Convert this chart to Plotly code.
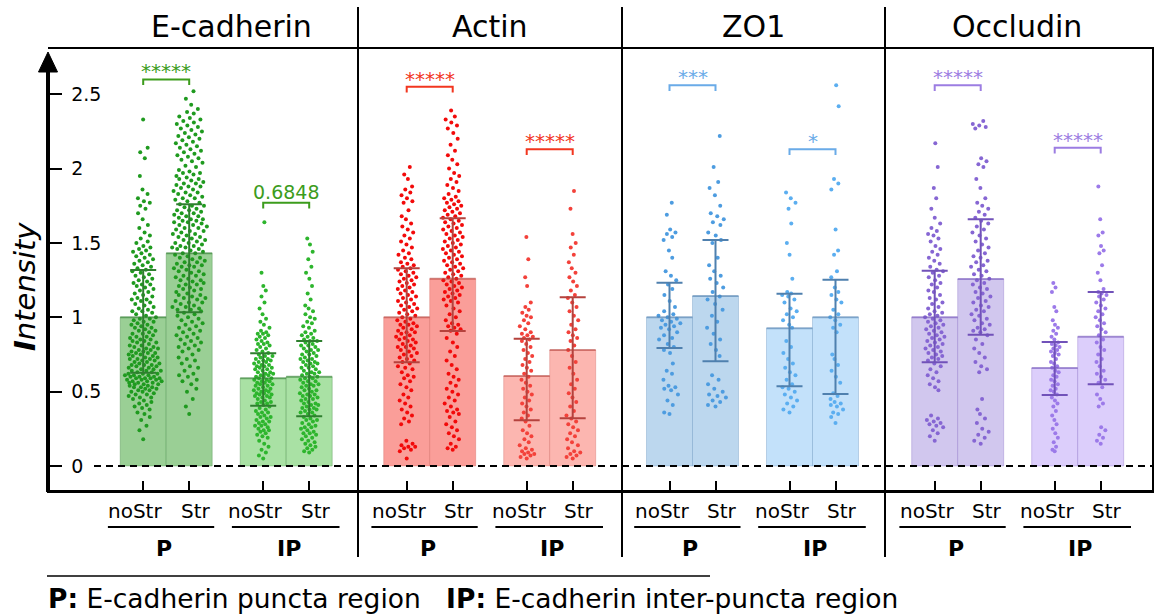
import numpy as np
import plotly.graph_objects as go

# ---------------- data ----------------
panels = ["E-cadherin", "Actin", "ZO1", "Occludin"]
conditions = ["noStr", "Str", "noStr", "Str"]
regions = ["P", "IP"]

means = [[1.00, 1.43, 0.59, 0.60],
         [1.00, 1.26, 0.605, 0.78],
         [1.00, 1.143, 0.926, 1.00],
         [1.00, 1.258, 0.659, 0.87]]
err_hi = [[1.318, 1.760, 0.758, 0.841],
          [1.33, 1.666, 0.856, 1.134],
          [1.233, 1.52, 1.159, 1.253],
          [1.313, 1.659, 0.834, 1.17]]
err_lo = [[0.627, 1.034, 0.406, 0.334],
          [0.697, 0.908, 0.307, 0.321],
          [0.794, 0.704, 0.536, 0.484],
          [0.697, 0.883, 0.477, 0.549]]
sig_labels = [["*****", "0.6848"], ["*****", "*****"], ["***", "*"], ["*****", "*****"]]
sig_y = [[2.60, 1.77], [2.55, 2.13], [2.56, 2.13], [2.56, 2.14]]
yticks = [0, 0.5, 1, 1.5, 2, 2.5]
ytick_text = ["0", "0.5", "1", "1.5", "2", "2.5"]
footnote = "<b>P:</b> E-cadherin puncta region   <b>IP:</b> E-cadherin inter-puncta region"

ecad_p_nostr = [0.18,0.24,0.27,0.31,0.33,
 0.35,0.36,0.38,0.39,0.40,0.41,0.42,0.43,0.44,0.45,0.46,0.46,0.47,0.48,0.48,0.49,
 0.50,0.50,0.51,0.51,0.52,0.52,0.53,0.53,0.53,0.54,0.54,0.55,0.55,0.55,0.56,0.56,0.56,0.57,0.57,0.57,0.58,0.58,0.58,0.59,0.59,0.59,0.59,0.60,0.60,0.60,0.61,0.61,0.61,0.62,0.62,0.62,
 0.63,0.63,0.64,0.64,0.64,0.65,0.65,0.66,0.66,0.67,0.67,0.68,0.68,0.68,0.69,0.69,0.70,0.70,0.71,0.71,0.72,0.72,0.72,0.73,0.73,0.74,0.74,0.75,0.75,0.76,0.76,0.76,0.77,0.77,0.78,0.78,0.79,0.79,0.80,0.80,0.81,0.81,0.82,0.83,0.83,0.84,0.84,0.85,0.85,0.86,0.87,0.87,0.88,0.89,0.89,0.90,0.91,0.91,0.92,0.93,0.93,0.94,0.95,0.95,0.96,0.97,0.97,0.98,0.99,0.99,
 1.00,1.01,1.02,1.03,1.04,1.04,1.05,1.06,1.07,1.08,1.09,1.10,1.11,1.12,1.12,1.13,1.14,1.15,1.16,1.17,1.18,1.19,1.20,1.21,1.22,1.22,1.23,1.24,1.25,1.26,1.27,1.28,1.29,1.30,1.31,1.32,
 1.33,1.34,1.35,1.36,1.37,1.38,1.39,1.40,1.41,1.42,1.43,1.44,1.45,1.46,1.47,1.48,1.50,1.51,1.53,1.55,1.57,1.60,
 1.62,1.66,1.70,1.73,1.75,1.77,1.78,1.80,1.83,1.86,
 1.95,2.07,2.11,2.14,2.33]
ecad_p_str = [0.35,0.40,0.45,0.50,0.52,0.55,0.57,0.58,0.60,0.61,0.62,0.64,0.66,0.67,0.69,
 0.71,0.72,0.73,0.75,0.77,0.78,0.79,0.80,0.81,0.82,0.83,0.84,0.85,0.86,0.87,0.88,0.89,0.90,0.91,0.92,0.93,0.94,0.95,0.96,0.97,0.98,0.99,1.00,1.01,1.02,
 1.03,1.04,1.05,1.05,1.06,1.07,1.07,1.08,1.09,1.10,1.10,1.11,1.12,1.13,1.13,1.14,1.15,1.15,1.16,1.17,1.18,1.19,1.19,1.20,1.21,1.22,1.22,1.23,1.24,1.25,1.25,1.26,1.27,1.28,1.28,1.29,1.30,1.31,1.31,1.32,1.33,1.34,1.34,1.35,1.35,1.36,1.37,1.37,1.38,1.39,1.40,1.40,1.41,1.42,1.43,
 1.43,1.44,1.45,1.46,1.46,1.47,1.47,1.48,1.48,1.49,1.50,1.50,1.51,1.52,1.52,1.53,1.54,1.54,1.55,1.56,1.56,1.57,1.58,1.58,1.59,1.60,1.60,1.61,1.62,1.62,1.63,1.64,1.64,1.65,1.65,1.66,1.66,1.67,1.68,1.68,1.69,1.70,1.70,1.71,1.72,1.72,1.73,1.74,1.75,1.75,
 1.76,1.77,1.78,1.79,1.80,1.80,1.81,1.82,1.83,1.84,1.84,1.85,1.86,1.87,1.88,1.88,1.89,1.90,1.90,1.91,1.92,1.93,1.93,1.94,1.95,1.96,1.97,1.97,1.98,1.99,
 2.01,2.02,2.04,2.05,2.06,2.07,2.08,2.09,2.10,2.11,2.12,2.13,2.14,2.15,2.16,2.17,2.18,2.19,2.20,2.21,2.22,2.23,2.24,2.25,2.26,2.27,2.28,2.29,
 2.30,2.31,2.32,2.33,2.34,2.35,2.37,2.38,2.40,2.43,2.47,2.52]
ecad_ip_nostr = [0.05,0.07,0.09,0.11,0.13,0.15,0.17,0.19,
 0.20,0.21,0.22,0.23,0.24,0.24,0.25,0.26,0.27,0.27,0.28,0.29,0.30,0.30,0.31,0.32,0.33,0.33,0.34,0.35,0.36,0.36,0.37,0.38,0.39,
 0.40,0.41,0.42,0.42,0.43,0.43,0.44,0.45,0.46,0.46,0.47,0.47,0.48,0.48,0.49,0.49,0.50,0.50,0.51,0.51,0.52,0.52,0.53,0.54,0.54,0.55,0.55,0.56,0.56,0.57,0.57,0.58,0.58,0.59,0.59,0.60,0.60,0.61,0.61,0.62,0.62,0.63,0.63,0.64,0.65,0.65,0.66,0.66,0.67,0.67,0.68,0.68,0.69,0.70,0.70,0.71,0.71,0.72,0.72,0.73,0.74,0.74,0.75,
 0.76,0.77,0.78,0.79,0.80,0.81,0.82,0.82,0.83,0.84,
 0.85,0.86,0.87,0.88,0.89,0.89,0.90,0.91,0.93,0.95,0.97,0.99,
 1.02,1.06,1.10,1.14,1.18,1.21,1.30,1.64]
ecad_ip_str = [0.09,0.10,0.11,0.12,0.13,0.14,0.15,0.16,0.17,0.18,0.19,0.20,0.21,0.22,0.22,0.23,0.24,0.25,0.26,0.26,0.27,0.28,0.29,0.30,0.31,0.31,0.32,0.33,0.34,
 0.35,0.36,0.36,0.37,0.38,0.38,0.39,0.39,0.40,0.41,0.41,0.42,0.42,0.43,0.44,0.45,0.45,0.46,0.47,0.47,0.48,0.48,0.49,0.50,0.51,0.51,0.52,0.53,0.54,0.54,0.55,0.55,0.56,0.57,0.57,0.58,0.59,0.59,0.60,0.60,0.61,0.62,0.62,0.63,0.63,0.64,0.65,0.66,0.66,0.67,0.68,0.69,0.69,0.70,0.70,0.71,0.72,0.72,0.73,0.74,0.75,0.75,0.76,0.77,0.78,0.78,0.79,0.80,0.81,0.81,0.82,0.83,0.84,0.84,0.85,
 0.86,0.87,0.88,0.89,0.90,0.91,0.93,0.94,0.96,0.97,0.99,1.00,1.02,1.04,1.06,1.08,
 1.12,1.16,1.21,1.26,1.30,1.34,1.39,1.44,1.49,1.53]

actin_p_nostr = [0.05,0.10,0.11,0.12,0.13,0.13,0.14,0.15,0.17,
 0.28,0.30,0.32,0.34,0.36,0.38,0.40,0.42,0.44,0.46,0.48,
 0.51,0.53,0.55,0.57,0.59,0.60,0.61,0.63,0.65,0.66,0.67,0.69,
 0.70,0.71,0.72,0.73,0.74,0.75,0.76,0.77,0.78,0.79,0.80,0.80,0.81,0.82,0.83,0.84,0.85,0.85,0.86,0.87,0.88,0.89,0.90,0.90,0.91,0.92,0.93,0.94,0.95,0.95,0.96,0.97,0.98,0.99,1.00,
 1.01,1.02,1.03,1.04,1.05,1.06,1.07,1.08,1.09,1.10,1.11,1.12,1.13,1.14,1.15,1.16,1.17,1.18,1.19,1.20,1.21,1.22,1.23,1.24,1.25,1.26,1.27,1.28,1.29,1.30,1.31,1.32,
 1.33,1.34,1.35,1.36,1.37,1.39,1.40,1.42,1.43,1.45,1.47,1.49,
 1.51,1.53,1.55,1.57,1.59,1.61,1.63,1.66,1.68,1.72,
 1.77,1.78,1.80,1.82,1.84,1.86,1.88,1.93,1.96,2.01]
actin_p_str = [0.11,0.12,0.13,0.15,0.18,0.20,0.22,0.24,0.26,0.28,0.30,0.33,
 0.35,0.36,0.37,0.38,0.40,0.42,0.44,0.46,0.48,0.50,0.52,0.54,0.56,0.58,0.60,
 0.62,0.65,0.68,0.71,0.74,0.77,0.80,0.83,0.86,0.89,
 0.91,0.92,0.93,0.94,0.95,0.96,0.98,1.00,1.02,1.04,1.06,1.08,1.10,1.11,1.12,1.13,1.14,1.15,1.16,1.17,1.18,1.19,1.20,1.21,1.22,1.23,1.24,1.25,1.26,1.27,1.28,1.29,1.30,1.31,1.32,1.33,1.34,1.35,1.36,1.37,1.38,1.39,1.40,1.41,1.42,1.43,1.44,1.45,1.46,1.47,1.48,1.49,1.50,1.51,1.52,1.53,1.54,1.55,1.56,1.57,1.58,1.59,1.60,1.61,1.62,1.63,1.64,1.65,1.66,1.67,
 1.68,1.69,1.70,1.71,1.72,1.73,1.74,1.75,1.76,1.77,1.78,1.79,1.80,1.81,1.83,1.85,1.87,1.89,1.91,1.93,1.95,1.97,2.00,2.03,2.06,2.09,2.12,2.16,2.20,2.24,2.27,2.29,2.31,2.33,2.35,2.39]
actin_ip_nostr = [0.05,0.06,0.07,0.08,0.08,0.09,0.10,0.11,0.12,0.14,0.16,0.18,0.20,0.22,0.24,0.27,
 0.30,0.32,0.34,0.36,0.38,0.40,0.42,0.44,0.46,0.48,0.50,0.52,0.54,0.56,0.58,0.60,0.62,0.64,0.66,0.68,0.70,0.72,0.74,0.76,0.78,0.80,0.82,0.84,
 0.85,0.86,0.87,0.88,0.89,0.90,0.92,0.94,0.96,0.98,
 1.00,1.01,1.03,1.05,1.07,1.10,1.21,1.27,1.39,1.54]
actin_ip_str = [0.05,0.06,0.07,0.08,0.09,0.10,0.12,0.14,0.16,0.18,0.20,0.22,0.24,0.26,0.28,
 0.30,0.32,0.34,0.37,0.40,0.43,0.46,0.49,0.52,0.55,0.58,0.62,0.66,0.70,0.74,0.78,
 0.81,0.84,0.86,0.88,0.90,0.92,0.95,0.98,1.01,1.04,1.07,1.10,
 1.13,1.15,1.18,1.21,1.24,1.27,1.30,1.33,1.37,1.42,1.47,1.50,1.56,1.73,1.85]

zo1_p_nostr = [0.35,0.36,0.41,0.44,0.48,0.51,0.52,0.53,0.54,0.58,0.62,0.64,0.69,
 0.76,0.78,0.80,0.82,
 0.85,0.86,0.88,0.90,0.92,0.93,0.94,0.95,0.96,0.97,0.98,0.99,1.00,1.01,1.02,
 1.04,1.07,1.11,1.15,1.19,1.22,1.25,1.28,1.31,1.40,1.45,1.52,1.54,1.56,1.57,1.59,1.69,1.77]
zo1_p_str = [0.40,0.41,0.43,0.44,0.46,0.47,0.48,0.50,0.52,0.55,0.58,0.61,
 0.74,0.78,0.82,
 0.85,0.89,0.93,0.97,1.01,1.05,1.09,
 1.12,1.14,1.17,1.20,1.23,1.26,1.28,1.31,1.35,1.40,
 1.50,1.52,1.55,1.57,1.62,1.64,1.66,1.68,1.70,1.75,1.82,1.87,1.91,2.01,2.22]
zo1_ip_nostr = [0.36,0.38,0.40,0.42,0.44,0.46,0.48,0.50,0.52,0.53,0.55,0.58,
 0.61,0.63,0.66,0.69,0.72,0.76,0.80,0.84,
 0.93,0.95,0.98,1.00,1.02,1.04,1.06,
 1.10,1.12,1.14,1.15,1.16,1.17,1.26,1.42,1.50,1.63,1.73,1.77,1.80,1.84]
zo1_ip_str = [0.29,0.33,0.35,0.36,0.38,0.40,0.41,0.42,0.43,0.45,0.47,0.49,
 0.56,0.60,0.64,0.68,0.72,0.75,
 0.90,0.93,0.95,0.98,1.00,1.02,1.05,
 1.10,1.12,1.15,1.17,1.20,1.27,1.31,1.42,1.45,1.59,1.86,1.90,1.93,2.42,2.56]

occl_p_nostr = [0.17,0.20,0.22,0.24,0.26,0.27,0.28,0.29,0.30,0.31,0.32,0.34,
 0.51,0.53,0.55,0.57,0.59,0.61,0.63,0.65,0.67,0.69,
 0.71,0.72,0.73,0.74,0.75,0.76,0.77,0.78,0.79,0.80,0.81,0.82,0.83,0.84,0.85,0.86,0.87,0.88,0.89,0.90,0.91,0.92,0.93,0.94,0.95,0.96,0.97,0.98,0.99,1.00,
 1.01,1.02,1.03,1.04,1.06,1.07,1.09,1.10,1.12,1.13,1.15,1.17,1.18,1.20,1.22,1.23,1.25,1.27,1.28,1.30,
 1.31,1.32,1.34,1.36,1.38,1.40,1.42,1.44,1.46,1.48,
 1.51,1.53,1.55,1.56,1.58,1.60,1.63,1.67,1.73,1.80,1.87,2.01,2.17]
occl_p_str = [0.15,0.17,0.19,0.21,0.23,0.25,0.29,0.32,0.35,0.38,0.45,
 0.63,0.65,0.67,0.70,0.73,0.76,0.79,0.82,0.85,0.88,
 0.90,0.91,0.92,0.93,0.95,0.96,0.98,0.99,1.01,1.02,1.04,1.05,1.07,1.08,1.10,1.11,1.13,1.14,1.16,1.17,1.19,1.20,1.22,1.23,1.25,1.26,1.28,1.29,1.31,1.32,1.34,1.35,1.37,1.38,1.40,
 1.41,1.43,1.45,1.47,1.49,1.51,1.53,1.55,1.57,1.59,1.61,1.63,1.65,1.67,1.69,
 1.71,1.73,1.75,1.77,1.80,1.87,1.93,2.01,2.03,2.05,2.07,2.27,2.28,2.29,2.30,2.32]
occl_ip_nostr = [0.10,0.11,0.13,0.16,0.19,0.22,0.25,0.28,
 0.31,0.34,0.37,0.40,0.42,0.44,0.46,0.48,
 0.50,0.51,0.52,0.54,0.55,0.57,0.58,0.60,0.61,0.63,0.64,0.66,0.67,0.69,0.70,0.72,0.74,0.75,0.76,0.77,0.78,0.79,0.80,0.81,0.82,
 0.83,0.85,0.87,0.89,0.91,0.93,0.95,0.98,1.04,1.07,1.17,1.20,1.23]
occl_ip_str = [0.15,0.17,0.19,0.21,0.24,0.26,
 0.40,0.42,0.45,0.48,0.53,
 0.56,0.58,0.60,0.62,0.64,0.67,0.70,0.72,0.75,0.78,0.80,0.83,0.85,0.88,
 0.90,0.92,0.94,0.96,0.98,1.00,1.02,1.04,1.06,1.08,1.10,1.12,1.14,1.15,1.16,1.17,1.19,
 1.25,1.30,1.35,1.43,1.45,1.48,1.55,1.57,1.66,1.88]

points = [[ecad_p_nostr, ecad_p_str, ecad_ip_nostr, ecad_ip_str],
          [actin_p_nostr, actin_p_str, actin_ip_nostr, actin_ip_str],
          [zo1_p_nostr, zo1_p_str, zo1_ip_nostr, zo1_ip_str],
          [occl_p_nostr, occl_p_str, occl_ip_nostr, occl_ip_str]]

# ---------------- styles / layout ----------------
bar_colors = [["#9ACF95", "#9ACF95", "#A9E1A4", "#A9E1A4"],
              ["#FA9E99", "#FA9E99", "#FCB6B0", "#FCB6B0"],
              ["#BCD7EE", "#BCD7EE", "#C3E1FA", "#C3E1FA"],
              ["#D1C7EE", "#D1C7EE", "#DCCEFB", "#DCCEFB"]]
pt_colors = [["#1F9A1F", "#1F9A1F", "#2DB52D", "#2DB52D"],
             ["#F20A0A", "#F20A0A", "#F3413A", "#F3413A"],
             ["#4D9CE0", "#4D9CE0", "#5BAEF0", "#5BAEF0"],
             ["#8666D3", "#8666D3", "#9C7AE9", "#9C7AE9"]]
err_colors = ["#2F7F2F", "#B5423D", "#4F80AE", "#7152B9"]
mean_colors = ["rgba(47,127,47,0.55)", "rgba(181,66,61,0.55)", "rgba(79,128,174,0.55)", "rgba(113,82,185,0.55)"]
edge_colors = ["rgba(60,130,60,0.35)", "rgba(200,80,70,0.3)", "rgba(80,130,180,0.3)", "rgba(120,90,190,0.3)"]
sig_colors = ["#3C9C1C", "#F2361F", "#6AABE8", "#9C7DE2"]
jit_w = [[19, 18, 10, 10], [11, 11, 8, 8], [12, 11, 8, 8], [10, 10, 5, 6]]

FONT = "DejaVu Sans"
W, H = 1156, 615
PL, PR, PT, PB = 47, 1154, 48, 490
Y0PX, PXU = 466, 148.7
yr = [(Y0PX - PB) / PXU, (Y0PX - PT) / PXU]
group_centers = [226.2, 489.7, 752.5, 1017.7]
bar_off = [-83, -37, 37, 83]
BW = 46
dividers = [358, 622, 885]
title_x = [231, 490, 753.5, 1017]


def xp(px):
    return (px - PL) / (PR - PL)


def yp(py):
    return (PB - py) / (PB - PT)


def jitter_x(vals, center, maxw):
    v = np.asarray(vals, dtype=float)
    edges = np.arange(-0.05, 2.85, 0.1)
    counts, _ = np.histogram(v, bins=edges)
    idx = np.clip(np.digitize(v, edges) - 1, 0, len(counts) - 1)
    dens = counts[idx] / counts.max()
    hw = np.maximum(maxw * np.sqrt(dens), 2.0)
    u = 2 * ((np.arange(len(v)) * 0.6180339887 + 0.5) % 1) - 1
    return center + hw * u


def ptext(px, py, text, size, bold=False, xanchor="center", **kw):
    t = f"<b>{text}</b>" if bold else text
    return dict(x=xp(px), y=yp(py), xref="paper", yref="paper", text=t, showarrow=False,
                xanchor=xanchor, yanchor="middle",
                font=dict(family=FONT, size=size, color="black"), **kw)


fig = go.Figure()
all_centers = []
for p in range(4):
    cx = [group_centers[p] + o for o in bar_off]
    all_centers += cx
    fig.add_trace(go.Bar(x=cx, y=means[p], width=BW,
                         marker=dict(color=bar_colors[p], line=dict(color=edge_colors[p], width=1)),
                         showlegend=False, hoverinfo="skip"))

for p in range(4):
    for b in range(4):
        c = group_centers[p] + bar_off[b]
        fig.add_trace(go.Scatter(x=jitter_x(points[p][b], c, jit_w[p][b]), y=points[p][b],
                                 mode="markers",
                                 marker=dict(size=4, color=pt_colors[p][b], line=dict(width=0)),
                                 showlegend=False, hoverinfo="skip"))

for p in range(4):
    cx = [group_centers[p] + o for o in bar_off]
    fig.add_trace(go.Scatter(x=cx, y=means[p], mode="markers", marker=dict(size=1, opacity=0),
                             error_y=dict(type="data", array=[0] * 4, width=BW / 2,
                                          thickness=2, color=mean_colors[p]),
                             showlegend=False, hoverinfo="skip"))
    fig.add_trace(go.Scatter(x=cx, y=means[p], mode="markers", marker=dict(size=1, opacity=0),
                             error_y=dict(type="data",
                                          array=[h - m for h, m in zip(err_hi[p], means[p])],
                                          arrayminus=[m - l for l, m in zip(err_lo[p], means[p])],
                                          width=13, thickness=2, color=err_colors[p]),
                             showlegend=False, hoverinfo="skip"))

shapes = []
annotations = []
LEG = 0.038
for p in range(4):
    gc = group_centers[p]
    for k in range(2):
        x1 = gc + bar_off[2 * k]
        x2 = gc + bar_off[2 * k + 1]
        yb = sig_y[p][k]
        shapes.append(dict(type="path", xref="x", yref="y",
                           path=f"M {x1},{yb - LEG} L {x1},{yb} L {x2},{yb} L {x2},{yb - LEG}",
                           line=dict(color=sig_colors[p], width=2)))
        is_star = sig_labels[p][k].startswith("*")
        annotations.append(dict(x=(x1 + x2) / 2, y=yb, xref="x", yref="y",
                                text=sig_labels[p][k], showarrow=False,
                                xanchor="center", yanchor="bottom", yshift=(-6 if is_star else -2),
                                font=dict(family=FONT, size=(20 if is_star else 19), color=sig_colors[p])))
    # category labels
    for b in range(4):
        c = gc + bar_off[b]
        off = -8 if conditions[b] == "noStr" else 6.5
        annotations.append(ptext(c + off, 511, conditions[b], 20))
    # region underlines and labels
    for k, (a, bnd) in enumerate([(-118.3, -12), (5.7, 113.3)]):
        shapes.append(dict(type="line", xref="paper", yref="paper",
                           x0=xp(gc + a), x1=xp(gc + bnd), y0=yp(527), y1=yp(527),
                           line=dict(color="black", width=2)))
        annotations.append(ptext(gc + (a + bnd) / 2 + 3, 548, regions[k], 22, bold=True))
    annotations.append(ptext(title_x[p], 27, panels[p], 30))

# frame, dividers, axis arrow, zero line
for d in dividers:
    shapes.append(dict(type="line", xref="paper", yref="paper", x0=xp(d), x1=xp(d),
                       y0=yp(7), y1=yp(557), line=dict(color="black", width=2)))
shapes.append(dict(type="line", xref="paper", yref="paper", x0=xp(48), x1=1,
                   y0=yp(48), y1=yp(48), line=dict(color="black", width=2)))
shapes.append(dict(type="line", xref="paper", yref="paper", x0=xp(1153), x1=xp(1153),
                   y0=yp(48), y1=yp(491), line=dict(color="black", width=2)))
shapes.append(dict(type="line", xref="paper", yref="paper", x0=xp(48), x1=xp(48),
                   y0=yp(492), y1=yp(68), line=dict(color="black", width=4)))
shapes.append(dict(type="path", xref="paper", yref="paper",
                   path=f"M {xp(38.5)},{yp(72)} L {xp(48)},{yp(52)} L {xp(57.5)},{yp(72)} Z",
                   fillcolor="black", line=dict(color="black", width=1)))
shapes.append(dict(type="line", xref="paper", yref="y", x0=xp(94), x1=1, y0=0, y1=0,
                   line=dict(color="black", width=2, dash="7px,5px")))
shapes.append(dict(type="line", xref="paper", yref="paper", x0=xp(47), x1=xp(710),
                   y0=yp(576), y1=yp(576), line=dict(color="black", width=1.5)))

annotations.append(dict(x=xp(25), y=yp(287), xref="paper", yref="paper",
                        text="<i><b>I</b>ntensity</i>", textangle=-90, showarrow=False,
                        xanchor="center", yanchor="middle",
                        font=dict(family=FONT, size=29, color="black")))
annotations.append(ptext(46, 598, footnote, 26.5, xanchor="left"))

fig.update_layout(
    width=W, height=H,
    margin=dict(l=PL, r=W - PR, t=PT, b=H - PB, pad=0),
    paper_bgcolor="white", plot_bgcolor="white",
    barmode="overlay", showlegend=False,
    shapes=shapes, annotations=annotations,
    xaxis=dict(range=[PL, PR], showgrid=False, zeroline=False,
               tickvals=all_centers, ticks="inside", ticklen=9, tickwidth=2, tickcolor="black",
               showticklabels=False, showline=True, linewidth=3, linecolor="black", fixedrange=True),
    yaxis=dict(range=yr, showgrid=False, zeroline=False, showline=False,
               tickvals=yticks, ticktext=ytick_text, ticks="inside", ticklen=15, tickwidth=2,
               tickcolor="black", ticklabelposition="inside", ticklabelstandoff=10,
               tickfont=dict(family=FONT, size=19, color="black"), fixedrange=True),
)

fig.write_html("out.html", config={"displayModeBar": False},
               post_script="document.body.style.margin='0';document.body.style.overflow='hidden';")
